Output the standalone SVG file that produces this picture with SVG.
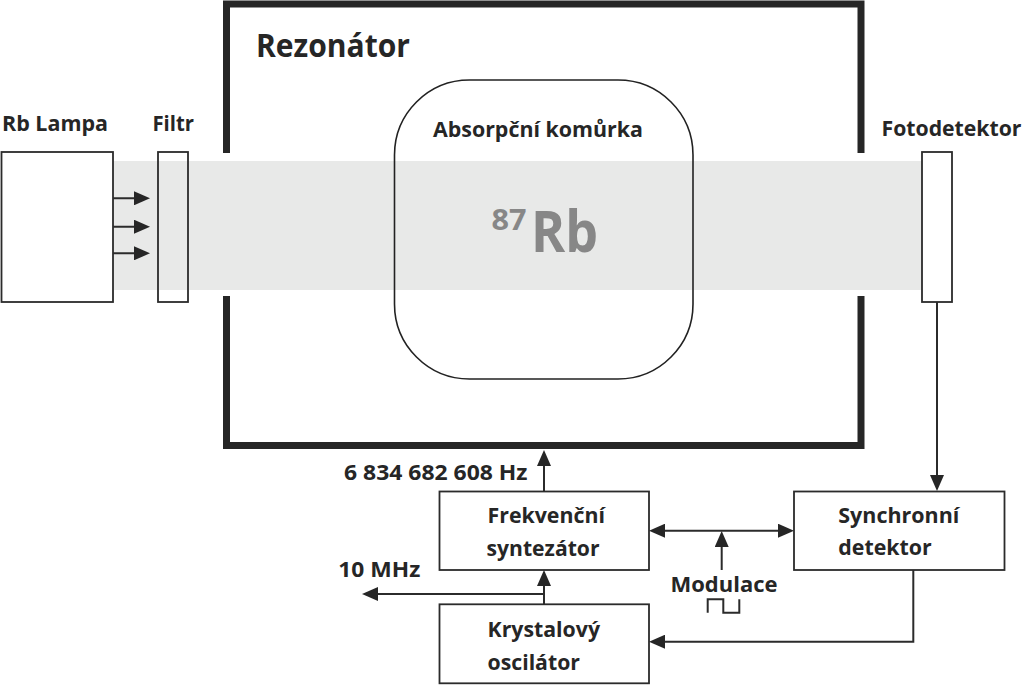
<svg xmlns="http://www.w3.org/2000/svg" width="1024" height="685" viewBox="0 0 1024 685">
  <style>
    text { font-family: "Open Sans", "Liberation Sans", sans-serif; font-weight: bold; fill: #262626; }
    .lbl { font-size: 21px; }
    .title { font-size: 33px; }
    .iso { fill: #878787; }
    .box { fill: #ffffff; stroke: #2b2b2b; stroke-width: 1.8; }
    .open { fill: none; stroke: #2b2b2b; stroke-width: 1.8; }
    .wall { fill: none; stroke: #262626; stroke-width: 7; stroke-linejoin: miter; }
    .conn { fill: none; stroke: #2b2b2b; stroke-width: 2; }
    .arr { marker-end: url(#ah); }
    .dbl { marker-start: url(#ah); marker-end: url(#ah); }
  </style>
  <defs>
    <marker id="ah" viewBox="0 0 16 14" refX="12" refY="7" markerWidth="16" markerHeight="14" markerUnits="userSpaceOnUse" orient="auto-start-reverse">
      <path d="M0,0 L16,7 L0,14 z" fill="#262626"/>
    </marker>
  </defs>
  <rect width="1024" height="685" fill="#ffffff"/>

  <!-- light beam -->
  <rect id="beam" x="113" y="161" width="809" height="129" fill="#e8e9e8"/>

  <g id="cell">
    <rect x="394.5" y="80" width="298.5" height="299" rx="75" ry="75" fill="#ffffff" stroke="none"/>
    <rect x="394.5" y="161" width="298.5" height="129" fill="#e8e9e8"/>
    <rect x="394.5" y="80" width="298.5" height="299" rx="75" ry="75" fill="none" stroke="#222222" stroke-width="1.6"/>
    <text class="lbl" x="433" y="136.7" textLength="210" lengthAdjust="spacingAndGlyphs">Absorpční komůrka</text>
    <text class="iso" x="491.5" y="230" font-size="28" textLength="35" lengthAdjust="spacingAndGlyphs">87</text>
    <text class="iso" x="531" y="251.7" font-size="58" textLength="67" lengthAdjust="spacingAndGlyphs">Rb</text>
  </g>

  <g id="resonator">
    <path class="wall" d="M226.5,153 V4 H861 V153"/>
    <path class="wall" d="M226.5,296 V445.5 H861 V296"/>
    <text class="title" x="256" y="56.7" textLength="154" lengthAdjust="spacingAndGlyphs">Rezonátor</text>
  </g>

  <g id="lamp">
    <rect class="box" x="1.5" y="152" width="111.5" height="150"/>
    <text class="lbl" x="2" y="130.7" textLength="106" lengthAdjust="spacingAndGlyphs">Rb Lampa</text>
  </g>

  <g id="filter">
    <rect class="open" x="158" y="152" width="30" height="150"/>
    <text class="lbl" x="152.5" y="131" textLength="41.5" lengthAdjust="spacingAndGlyphs">Filtr</text>
  </g>

  <g id="photodetector">
    <rect class="box" x="922" y="152" width="30" height="150"/>
    <text class="lbl" x="881.5" y="136" textLength="140" lengthAdjust="spacingAndGlyphs">Fotodetektor</text>
  </g>

  <g id="synthesizer">
    <rect class="box" x="439.5" y="491.5" width="209.5" height="78.5"/>
    <text class="lbl" x="487.5" y="522.7" textLength="117.5" lengthAdjust="spacingAndGlyphs">Frekvenční</text>
    <text class="lbl" x="486.5" y="556" textLength="113" lengthAdjust="spacingAndGlyphs">syntezátor</text>
  </g>

  <g id="oscillator">
    <rect class="box" x="439.5" y="604.3" width="209.5" height="79"/>
    <text class="lbl" x="487.5" y="636.7" textLength="112.5" lengthAdjust="spacingAndGlyphs">Krystalový</text>
    <text class="lbl" x="487.5" y="670" textLength="92.5" lengthAdjust="spacingAndGlyphs">oscilátor</text>
  </g>

  <g id="syncdetector">
    <rect class="box" x="794" y="491.5" width="210.5" height="78.5"/>
    <text class="lbl" x="838.3" y="522.7" textLength="121" lengthAdjust="spacingAndGlyphs">Synchronní</text>
    <text class="lbl" x="838.3" y="555" textLength="93.5" lengthAdjust="spacingAndGlyphs">detektor</text>
  </g>

  <g id="modulation">
    <text class="lbl" x="670.5" y="591.7" textLength="107" lengthAdjust="spacingAndGlyphs">Modulace</text>
    <path class="conn" d="M707.7,612.7 V599.3 H723.3 V612.7 H739.3 V599.3"/>
  </g>

  <g id="connectors">
    <path class="conn arr" d="M113,198.3 H146"/>
    <path class="conn arr" d="M113,226.7 H146"/>
    <path class="conn arr" d="M113,253.3 H146"/>
    <path class="conn arr" d="M937,302 V487"/>
    <path class="conn arr" d="M544,491.5 V454"/>
    <path class="conn arr" d="M544,604.3 V574"/>
    <path class="conn arr" d="M544,594 H366"/>
    <path class="conn dbl" d="M653,530.7 H790"/>
    <path class="conn arr" d="M721.7,570 V535"/>
    <path class="conn arr" d="M913.3,570 V641.7 H653"/>
    <text class="lbl" x="344" y="480" textLength="183.5" lengthAdjust="spacingAndGlyphs">6 834 682 608 Hz</text>
    <text class="lbl" x="338.3" y="576.7" textLength="82" lengthAdjust="spacingAndGlyphs">10 MHz</text>
  </g>
</svg>
